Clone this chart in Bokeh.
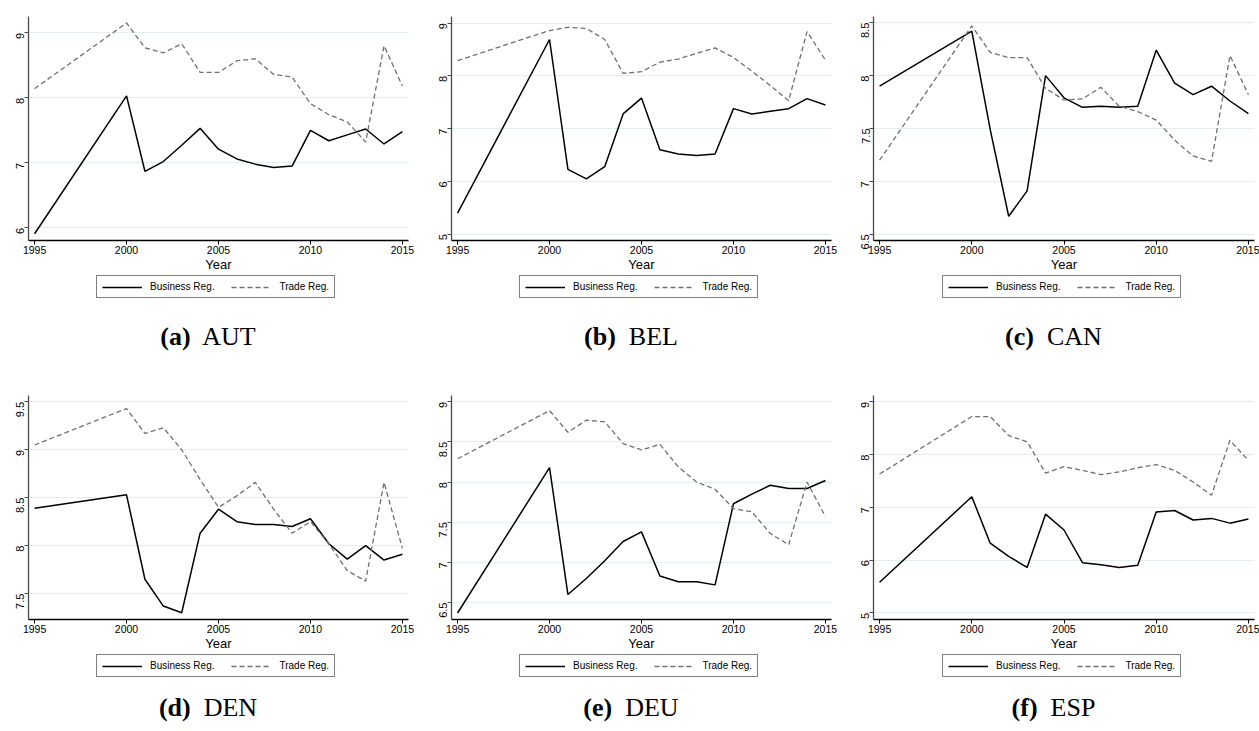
import math
from bokeh.plotting import figure
from bokeh.layouts import column, row
from bokeh.models import Div, Legend, LegendItem, FixedTicker, Range1d
from bokeh.embed import file_html
from bokeh.resources import INLINE

years = [1995, 2000, 2001, 2002, 2003, 2004, 2005, 2006, 2007, 2008,
         2009, 2010, 2011, 2012, 2013, 2014, 2015]
x_ticks = [1995, 2000, 2005, 2010, 2015]

aut_business = [5.91, 8.03, 6.87, 7.02, 7.27, 7.53, 7.21, 7.06, 6.98, 6.93,
                6.95, 7.50, 7.34, 7.43, 7.52, 7.29, 7.48]
aut_trade = [8.14, 9.15, 8.77, 8.69, 8.83, 8.39, 8.39, 8.57, 8.60, 8.36,
             8.32, 7.91, 7.74, 7.63, 7.32, 8.80, 8.18]

bel_business = [5.40, 8.69, 6.23, 6.05, 6.28, 7.28, 7.58, 6.60, 6.52, 6.49,
                6.52, 7.38, 7.28, 7.33, 7.38, 7.57, 7.45]
bel_trade = [8.29, 8.86, 8.92, 8.90, 8.69, 8.05, 8.08, 8.26, 8.32, 8.43,
             8.53, 8.35, 8.09, 7.82, 7.53, 8.84, 8.30]

can_business = [7.90, 8.42, 7.49, 6.67, 6.91, 8.00, 7.79, 7.70, 7.71, 7.70,
                7.71, 8.24, 7.93, 7.82, 7.90, 7.76, 7.64]
can_trade = [7.20, 8.47, 8.22, 8.17, 8.17, 7.88, 7.77, 7.78, 7.89, 7.71,
             7.66, 7.58, 7.39, 7.24, 7.19, 8.19, 7.82]

den_business = [8.39, 8.53, 7.65, 7.37, 7.30, 8.13, 8.38, 8.25, 8.22, 8.22,
                8.20, 8.28, 8.02, 7.86, 8.00, 7.85, 7.91]
den_trade = [9.05, 9.43, 9.17, 9.23, 9.00, 8.69, 8.40, 8.52, 8.66, 8.38,
             8.13, 8.25, 8.02, 7.74, 7.63, 8.66, 7.97]

deu_business = [6.37, 8.18, 6.60, 6.80, 7.02, 7.26, 7.38, 6.83, 6.76, 6.76,
                6.72, 7.73, 7.85, 7.96, 7.92, 7.92, 8.02]
deu_trade = [8.29, 8.89, 8.62, 8.77, 8.75, 8.48, 8.40, 8.47, 8.19, 8.00,
             7.91, 7.67, 7.63, 7.36, 7.22, 8.00, 7.57]

esp_business = [5.58, 7.20, 6.32, 6.07, 5.86, 6.87, 6.57, 5.95, 5.91, 5.86,
                5.90, 6.91, 6.94, 6.76, 6.79, 6.70, 6.78]
esp_trade = [7.63, 8.72, 8.72, 8.36, 8.24, 7.65, 7.77, 7.70, 7.62, 7.67,
             7.75, 7.81, 7.70, 7.48, 7.23, 8.27, 7.89]

captions = [("(a)", "AUT"), ("(b)", "BEL"), ("(c)", "CAN"),
            ("(d)", "DEN"), ("(e)", "DEU"), ("(f)", "ESP")]
series_labels = ["Business Reg.", "Trade Reg."]

SANS = "Liberation Sans"
BUS_STYLE = dict(line_color="black", line_width=1.5)
TRD_STYLE = dict(line_color="#707070", line_width=1.3, line_dash="5 3")


def make_panel(business, trade, y_lo, y_hi, y_ticks, width, height,
               b_left, b_right, b_top, b_bottom):
    p = figure(width=width, height=height, output_backend="svg",
               toolbar_location=None, x_range=Range1d(1994.67, 2015.33),
               y_range=Range1d(y_lo, y_hi),
               min_border_left=b_left, min_border_right=b_right,
               min_border_top=b_top, min_border_bottom=b_bottom)
    p.outline_line_color = None
    p.background_fill_color = "white"
    p.border_fill_color = "white"

    p.line(years, business, **BUS_STYLE)
    p.line(years, trade, **TRD_STYLE)

    p.xgrid.grid_line_color = None
    p.ygrid.grid_line_color = "#e3eef0"
    p.ygrid.grid_line_width = 1
    p.ygrid.ticker = FixedTicker(ticks=y_ticks)

    xa = p.xaxis[0]
    xa.ticker = FixedTicker(ticks=x_ticks)
    xa.axis_label = "Year"
    xa.axis_label_text_font = SANS
    xa.axis_label_text_font_size = "13px"
    xa.axis_label_text_font_style = "normal"
    xa.axis_label_text_color = "black"
    xa.axis_label_standoff = 0
    xa.major_label_text_font = SANS
    xa.major_label_text_font_size = "10.5px"
    xa.major_label_text_color = "black"
    xa.major_label_standoff = 1
    xa.major_tick_out = 4
    xa.major_tick_in = 0
    xa.minor_tick_line_color = None
    xa.axis_line_color = "black"
    xa.axis_line_width = 1.3
    xa.major_tick_line_color = "black"

    ya = p.yaxis[0]
    ya.ticker = FixedTicker(ticks=y_ticks)
    ya.major_label_overrides = {float(t): ("%g" % t) for t in y_ticks}
    ya.major_label_orientation = math.pi / 2
    ya.major_label_text_font = SANS
    ya.major_label_text_font_size = "11px"
    ya.major_label_text_color = "black"
    ya.major_label_standoff = 4
    ya.major_tick_out = 4
    ya.major_tick_in = 0
    ya.minor_tick_line_color = None
    ya.axis_line_color = "#4a4a4a"
    ya.axis_line_width = 1.3
    ya.major_tick_line_color = "#4a4a4a"
    return p


def make_legend_fig(business, trade, width, height, box_left, box_bottom):
    # legend-only strip: the series lie outside its pixel-unit ranges,
    # so only the legend (with its line samples) is visible
    q = figure(width=width, height=height, output_backend="svg",
               toolbar_location=None, x_range=Range1d(0, width),
               y_range=Range1d(0, height), x_axis_location=None,
               y_axis_location=None, min_border=0)
    q.outline_line_color = None
    q.grid.grid_line_color = None
    q.background_fill_color = "white"
    q.border_fill_color = "white"
    r1 = q.line(years, business, **BUS_STYLE)
    r2 = q.line(years, trade, **TRD_STYLE)
    legend = Legend(items=[LegendItem(label=series_labels[0], renderers=[r1]),
                           LegendItem(label=series_labels[1], renderers=[r2])],
                    orientation="horizontal", location=(box_left, box_bottom))
    legend.border_line_color = "black"
    legend.border_line_width = 1
    legend.background_fill_color = "white"
    legend.background_fill_alpha = 1
    legend.padding = 5
    legend.spacing = 17
    legend.margin = 0
    legend.label_standoff = 8
    legend.glyph_width = 40
    legend.glyph_height = 10
    legend.label_height = 10
    legend.label_text_font = SANS
    legend.label_text_font_size = "10px"
    legend.label_text_color = "black"
    legend.label_text_baseline = "middle"
    q.add_layout(legend, "center")
    return q


def make_caption(idx, width, height, pad_top, shift):
    letter, name = captions[idx]
    html = ('<div style="width: %dpx; font-family: \'Liberation Serif\', \'DejaVu Serif\', serif; '
            'font-size: 26px; line-height: 30px; color: black; text-align: center; '
            'padding-top: %dpx; position: relative; left: %dpx; white-space: nowrap;">'
            '<b>%s</b>&nbsp; %s</div>' % (width, pad_top, shift, letter, name))
    return Div(text=html, width=width, height=height, margin=(0, 0, 0, 0))


W = [428, 420, 411]
BL = [28, 23, 25]
BR = [20, 17, 5]

row1_specs = [
    (aut_business, aut_trade, 5.806, 9.25, [6, 7, 8, 9]),
    (bel_business, bel_trade, 4.881, 9.126, [5, 6, 7, 8, 9]),
    (can_business, can_trade, 6.441, 8.559, [6.5, 7, 7.5, 8, 8.5]),
]
row2_specs = [
    (den_business, den_trade, 7.23, 9.566, [7.5, 8, 8.5, 9, 9.5]),
    (deu_business, deu_trade, 6.289, 9.078, [6.5, 7, 7.5, 8, 8.5, 9]),
    (esp_business, esp_trade, 4.874, 9.119, [5, 6, 7, 8, 9]),
]

row1 = [make_panel(b, t, lo, hi, tk, W[i], 274, BL[i], BR[i], 16, 33)
        for i, (b, t, lo, hi, tk) in enumerate(row1_specs)]
row2 = [make_panel(b, t, lo, hi, tk, W[i], 283, BL[i], BR[i], 25, 33)
        for i, (b, t, lo, hi, tk) in enumerate(row2_specs)]

LEG_W = 244
leg_left = []
SHIFT = []
for i in range(3):
    frame_w = W[i] - BL[i] - BR[i]
    frame_centre = BL[i] + frame_w / 2.0
    leg_left.append(int(round(frame_centre - LEG_W / 2.0)))
    SHIFT.append(int(round(frame_centre - 10 - W[i] / 2.0)))

leg1 = [make_legend_fig(row1_specs[i][0], row1_specs[i][1], W[i], 28, leg_left[i], 4)
        for i in range(3)]
leg2 = [make_legend_fig(row2_specs[i][0], row2_specs[i][1], W[i], 28, leg_left[i], 4)
        for i in range(3)]

cap1 = [make_caption(i, W[i], 68, 20, SHIFT[i]) for i in range(3)]
cap2 = [make_caption(3 + i, W[i], 50, 12, SHIFT[i]) for i in range(3)]

layout = column(row(*row1), row(*leg1), row(*cap1),
                row(*row2), row(*leg2), row(*cap2))

with open("out.html", "w") as f:
    f.write(file_html(layout, INLINE))
